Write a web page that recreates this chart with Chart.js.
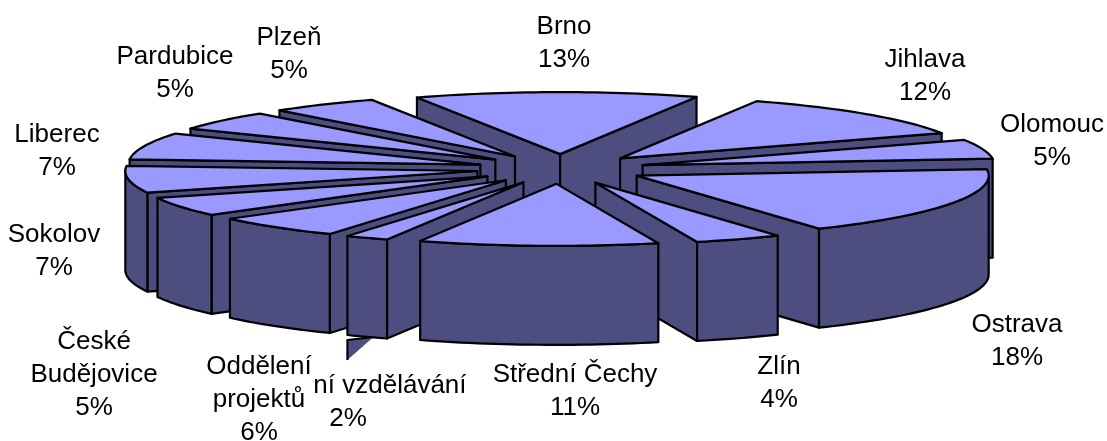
<!DOCTYPE html>
<html>
<head>
<meta charset="utf-8">
<script src="https://cdn.jsdelivr.net/npm/chart.js@4"></script>
<style>
  html, body { margin: 0; padding: 0; background: #fff; }
  #wrap { width: 1107px; height: 441px; }
</style>
</head>
<body>
<div id="wrap"><canvas id="chart"></canvas></div>
<script>
const categories = ['Brno', 'Jihlava', 'Olomouc', 'Ostrava', 'Zlín', 'Střední Čechy', 'Oddělení vzdělávání',
  'Oddělení projektů', 'České Budějovice', 'Sokolov', 'Liberec', 'Pardubice', 'Plzeň'];
const shares = [13, 12, 5, 18, 4, 11, 2, 6, 5, 7, 7, 5, 5];
const labelLines = [['Brno'], ['Jihlava'], ['Olomouc'], ['Ostrava'], ['Zlín'], ['Střední Čechy'], ['Oddělení vzdělávání'],
  ['Oddělení', 'projektů'], ['České', 'Budějovice'], ['Sokolov'], ['Liberec'], ['Pardubice'], ['Plzeň']];

// label anchors, centre x and middle of the first line
const labelX = [564, 925, 1052, 1017, 779, 575, 348, 259, 94, 54, 57, 175, 289];
const labelY = [27, 60, 125, 325, 367, 375, 386, 367, 342, 235, 135, 57, 38];

// fake 3d: the pie is drawn flat, then squashed and extruded
const centerX = 561, centerY = 169;
const pieRadius = 100, scaleX = 3.52, scaleY = 0.62;
const explode = 24, depth = 99;
const topColor = '#9999FF', wallColor = '#4D4D80';
const fontSize = 26, lineGap = 33;

function project(p) {
  return { x: centerX + p.x * scaleX, y: centerY + p.y * scaleY };
}

function facePath(ctx, pts) {
  ctx.beginPath();
  pts.forEach((p, i) => i ? ctx.lineTo(p.x, p.y) : ctx.moveTo(p.x, p.y));
  for (let i = pts.length - 1; i >= 0; i--) ctx.lineTo(pts[i].x, pts[i].y + depth);
  ctx.closePath();
  ctx.fillStyle = wallColor;
  ctx.fill();
  ctx.stroke();
}

const pie3d = {
  id: 'pie3d',
  beforeDatasetsDraw(chart) {
    const ctx = chart.ctx;
    const arcs = chart.getDatasetMeta(0).data.map((arc, index) => {
      const mid = (arc.startAngle + arc.endAngle) / 2;
      return { arc, index, mid, dx: Math.cos(mid) * explode, dy: Math.sin(mid) * explode };
    });
    arcs.sort((a, b) => Math.sin(a.mid) - Math.sin(b.mid));

    ctx.save();
    ctx.lineWidth = 2.2;
    ctx.strokeStyle = '#000';
    ctx.lineJoin = 'round';
    arcs.forEach(s => {
      const { arc, dx, dy } = s;
      const r = arc.outerRadius;
      const apex = project({ x: dx, y: dy });
      const rim = [];
      const steps = Math.max(4, Math.round((arc.endAngle - arc.startAngle) * 40));
      for (let i = 0; i <= steps; i++) {
        const a = arc.startAngle + (arc.endAngle - arc.startAngle) * i / steps;
        rim.push(project({ x: dx + Math.cos(a) * r, y: dy + Math.sin(a) * r }));
      }
      const first = rim[0], last = rim[rim.length - 1];

      // the sliver under the smallest slice
      if (shares[s.index] === Math.min(...shares)) {
        ctx.beginPath();
        ctx.moveTo(last.x + 26, last.y + depth + 2);
        ctx.lineTo(last.x, last.y + depth + 5);
        ctx.lineTo(last.x, last.y + depth + 25);
        ctx.closePath();
        ctx.fillStyle = wallColor;
        ctx.fill();
        ctx.beginPath();
        ctx.moveTo(last.x + 26, last.y + depth + 2);
        ctx.lineTo(last.x, last.y + depth + 5);
        ctx.lineTo(last.x, last.y + depth + 25);
        ctx.stroke();
      }

      // only walls running leftwards face the viewer
      if (first.x < apex.x) facePath(ctx, [apex, first]);
      if (apex.x < last.x) facePath(ctx, [last, apex]);
      let run = [];
      for (let i = 0; i < rim.length; i++) {
        if (i < rim.length - 1 && rim[i + 1].x < rim[i].x) {
          run.push(rim[i]);
        } else {
          if (run.length) { run.push(rim[i]); facePath(ctx, run); }
          run = [];
        }
      }

      // top face comes from the library's own arc
      ctx.save();
      ctx.translate(centerX, centerY);
      ctx.scale(scaleX, scaleY);
      ctx.translate(dx - arc.x, dy - arc.y);
      arc.draw(ctx);
      ctx.restore();

      ctx.beginPath();
      ctx.moveTo(apex.x, apex.y);
      rim.forEach(p => ctx.lineTo(p.x, p.y));
      ctx.closePath();
      ctx.stroke();
    });
    ctx.restore();
    return false;
  },
  afterDraw(chart) {
    const ctx = chart.ctx;
    ctx.save();
    ctx.font = fontSize + 'px "Liberation Sans", Arial, sans-serif';
    ctx.textAlign = 'center';
    ctx.textBaseline = 'middle';
    categories.forEach((name, i) => {
      const lines = [...labelLines[i], shares[i] + '%'];
      const w = Math.max(...lines.map(t => ctx.measureText(t).width));
      ctx.fillStyle = '#fff';
      ctx.fillRect(labelX[i] - w / 2 - 1, labelY[i] - lineGap / 2 + 3, w + 2, lines.length * lineGap - 6);
      ctx.fillStyle = '#000';
      lines.forEach((t, k) => ctx.fillText(t, labelX[i], labelY[i] + k * lineGap));
    });
    ctx.restore();
  }
};

new Chart(document.getElementById('chart'), {
  type: 'pie',
  data: {
    labels: categories,
    datasets: [{
      data: shares,
      backgroundColor: topColor,
      borderWidth: 0
    }]
  },
  options: {
    responsive: true,
    maintainAspectRatio: false,
    animation: false,
    rotation: -24,
    radius: pieRadius,
    plugins: { legend: { display: false }, tooltip: { enabled: false } }
  },
  plugins: [pie3d]
});
</script>
</body>
</html>
